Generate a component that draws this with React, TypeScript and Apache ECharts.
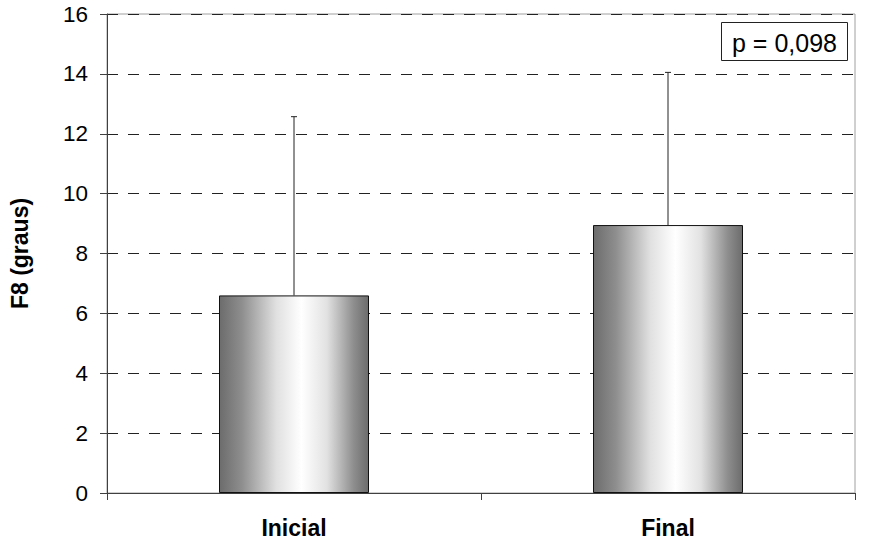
import React, { useEffect, useRef } from "react";
import * as echarts from "echarts";

const categories = ["Inicial", "Final"];
const means = [6.6, 8.95];
const sds = [5.97, 5.1];
const yTicks = [0, 2, 4, 6, 8, 10, 12, 14, 16];
const pLabel = "p = 0,098";
const yTitle = "F8 (graus)";

export default function App() {
  const ref = useRef<HTMLDivElement>(null);
  useEffect(() => {
    if (!ref.current) return;
    const chart = echarts.init(ref.current, null, { renderer: "svg" });
    const font = "Liberation Sans, Arial, sans-serif";
    const grad = new echarts.graphic.LinearGradient(0, 0, 1, 0, [
      { offset: 0, color: "#6c6c6c" },
      { offset: 0.15, color: "#8e8e8e" },
      { offset: 0.38, color: "#e0e0e0" },
      { offset: 0.55, color: "#ffffff" },
      { offset: 0.72, color: "#e2e2e2" },
      { offset: 0.9, color: "#8e8e8e" },
      { offset: 1, color: "#6c6c6c" },
    ]);
    chart.setOption({
      animation: false,
      backgroundColor: "#ffffff",
      grid: {
        left: 107,
        right: 23,
        top: 14,
        bottom: 57,
        show: true,
        borderColor: "#a0a0a0",
        borderWidth: 1,
        backgroundColor: "transparent",
      },
      xAxis: {
        type: "category",
        data: categories,
        boundaryGap: true,
        axisLine: { show: true, lineStyle: { color: "#404040", width: 1 } },
        axisTick: { show: true, length: 7, lineStyle: { color: "#404040" } },
        axisLabel: {
          margin: 23,
          fontFamily: font,
          fontSize: 23,
          fontWeight: "bold",
          color: "#000",
        },
      },
      yAxis: {
        type: "value",
        min: 0,
        max: 16,
        interval: 2,
        name: yTitle,
        nameLocation: "middle",
        nameGap: 76,
        nameRotate: 90,
        nameTextStyle: {
          fontFamily: font,
          fontSize: 23,
          fontWeight: "bold",
          color: "#000",
        },
        axisLine: { show: true, lineStyle: { color: "#404040", width: 1 } },
        axisTick: { show: true, length: 7, lineStyle: { color: "#404040" } },
        axisLabel: {
          margin: 19,
          fontFamily: font,
          fontSize: 22.5,
          color: "#000",
          formatter: (v: number) => (yTicks.includes(v) ? String(v) : ""),
        },
        splitLine: {
          show: true,
          lineStyle: { color: "#222", type: [11, 10], width: 1 },
        },
      },
      series: [
        {
          type: "bar",
          data: means,
          barWidth: 150,
          itemStyle: { color: grad, borderColor: "#111", borderWidth: 1 },
          z: 2,
        },
        {
          type: "custom",
          z: 3,
          data: means.map((m, i) => [i, m, m + sds[i]]),
          renderItem: (params: any, api: any) => {
            const x = api.value(0);
            const lo = api.coord([x, api.value(1)]);
            const hi = api.coord([x, api.value(2)]);
            const style = { stroke: "#222", lineWidth: 1 };
            return {
              type: "group",
              children: [
                {
                  type: "line",
                  shape: { x1: lo[0], y1: lo[1], x2: hi[0], y2: hi[1] },
                  style,
                },
                {
                  type: "line",
                  shape: { x1: hi[0] - 3, y1: hi[1], x2: hi[0] + 3, y2: hi[1] },
                  style,
                },
              ],
            };
          },
        },
      ],
      graphic: [
        {
          type: "group",
          left: 721,
          top: 22,
          children: [
            {
              type: "rect",
              shape: { x: 0, y: 0, width: 126, height: 38 },
              style: { fill: "#fff", stroke: "#222", lineWidth: 1 },
            },
            {
              type: "text",
              x: 63,
              y: 20,
              style: {
                text: pLabel,
                fontFamily: font,
                fontSize: 25,
                fill: "#000",
                align: "center",
                verticalAlign: "middle",
              },
            },
          ],
        },
      ],
    });
    return () => chart.dispose();
  }, []);
  return <div ref={ref} style={{ width: 878, height: 550, position: "absolute", left: 0, top: 0 }} />;
}
